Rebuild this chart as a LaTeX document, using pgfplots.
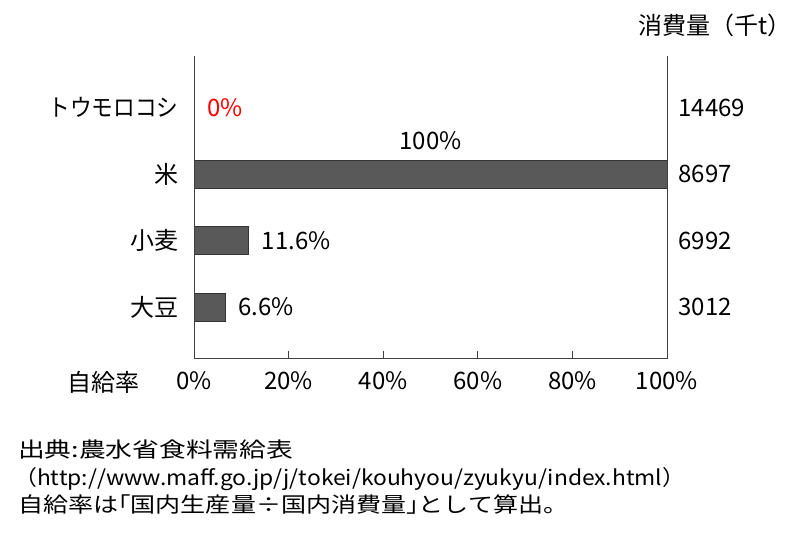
\documentclass[border=0pt]{standalone}
\usepackage{fontspec}
\setmainfont{Noto Sans CJK JP}
\usepackage{pgfplots}
\pgfplotsset{compat=1.18}
\definecolor{barfill}{HTML}{595959}
\definecolor{baredge}{HTML}{333333}
\definecolor{axisgray}{HTML}{404040}
\begin{document}
\begin{tikzpicture}[font=\fontsize{24bp}{28bp}\selectfont]
\path[use as bounding box] (0,0) rectangle (800bp,544bp);
\begin{axis}[
  at={(194bp,185bp)}, anchor=south west,
  scale only axis, width=473bp, height=303bp,
  xmin=0, xmax=100, ymin=-0.78, ymax=3.78,
  clip=false,
  axis line style={draw=none},
  xtick={0,20,40,60,80,100},
  xticklabels={0\%,20\%,40\%,60\%,80\%,100\%},
  xtick pos=bottom, tick align=inside,
  x tick style={axisgray, line width=0.8bp},
  major tick length=8bp,
  ytick={0,1,2,3},
  yticklabels={大豆,小麦,米,{\resizebox{130bp}{\height}{トウモロコシ}}},
  y tick style={draw=none},
  ytick pos=left,
  yticklabel style={xshift=-4bp},
  xticklabel style={yshift=-9bp},
  xbar, bar width=28bp,
]
\addplot[fill=barfill, draw=baredge, line width=0.8bp] coordinates {(6.6,0) (11.6,1) (100,2) (0,3)};
\draw[axisgray, line width=1bp] (rel axis cs:0,1) -- (rel axis cs:0,0) -- (rel axis cs:1,0) -- (rel axis cs:1,1);
\node[anchor=west, text=red] at (axis cs:0,3) [xshift=9.5bp] {0\%};
\node[anchor=center] at (axis cs:50,2.5) {100\%};
\node[anchor=west] at (axis cs:11.6,1) [xshift=9.5bp] {11.6\%};
\node[anchor=west] at (axis cs:6.6,0) [xshift=9.5bp] {6.6\%};
\node[anchor=west] at (axis cs:100,3) [xshift=8bp] {14469};
\node[anchor=west] at (axis cs:100,2) [xshift=8bp] {8697};
\node[anchor=west] at (axis cs:100,1) [xshift=8bp] {6992};
\node[anchor=west] at (axis cs:100,0) [xshift=8bp] {3012};
\end{axis}
\node at (103.5bp,161.5bp) {自給率};
\node at (715bp,519bp) {消費量（千t）};
\begin{scope}[font=\fontsize{21bp}{24bp}\selectfont, inner sep=0pt]
\node[anchor=west] at (18bp,94bp) {\resizebox{275bp}{\height}{出典:農水省食料需給表}};
\node[anchor=west] at (14bp,65bp) {\resizebox{671bp}{\height}{（http://www.maff.go.jp/j/tokei/kouhyou/zyukyu/index.html）}};
\node[anchor=west] at (18bp,39bp) {\resizebox{550bp}{\height}{自給率は｢国内生産量÷国内消費量｣として算出。}};
\end{scope}
\end{tikzpicture}
\end{document}
